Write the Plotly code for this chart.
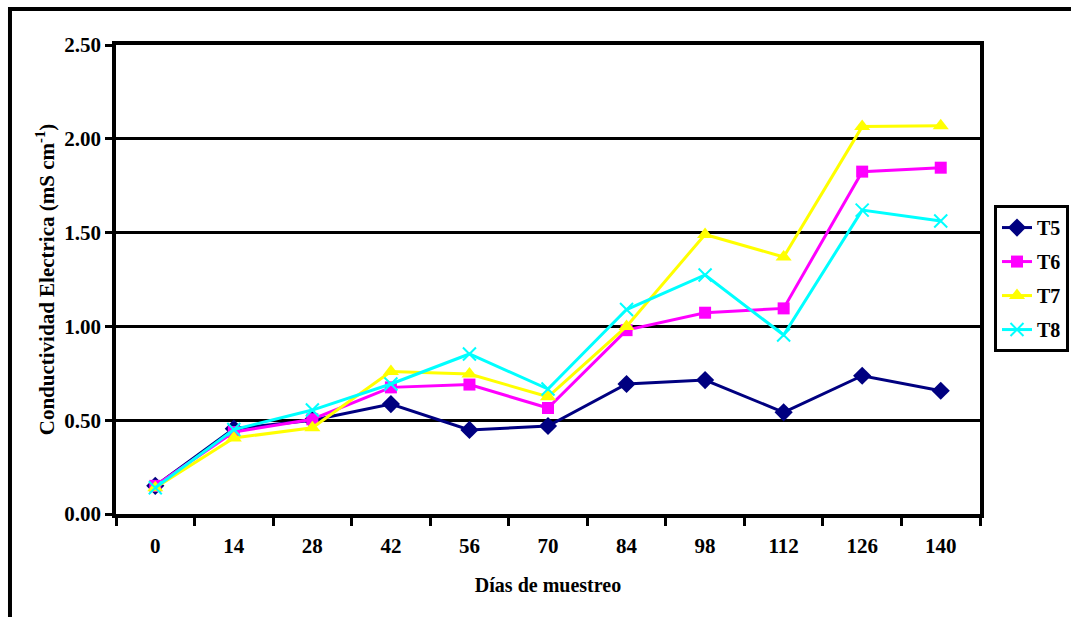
import plotly.graph_objects as go

# Sampling days (categories) and electrical conductivity per treatment (mS cm-1)
dias = ["0", "14", "28", "42", "56", "70", "84", "98", "112", "126", "140"]
t5 = [0.15, 0.455, 0.50, 0.586, 0.448, 0.469, 0.693, 0.714, 0.542, 0.737, 0.657]
t6 = [0.15, 0.437, 0.505, 0.675, 0.69, 0.565, 0.98, 1.073, 1.096, 1.825, 1.846]
t7 = [0.14, 0.405, 0.46, 0.76, 0.746, 0.625, 1.00, 1.49, 1.37, 2.065, 2.07]
t8 = [0.14, 0.45, 0.554, 0.693, 0.853, 0.666, 1.09, 1.274, 0.954, 1.62, 1.562]
y_ticks = [0.0, 0.5, 1.0, 1.5, 2.0, 2.5]

FONT = "Liberation Serif"

series = [
    ("T5", t5, "#000080", "diamond", 14),
    ("T6", t6, "#FF00FF", "square", 12),
    ("T7", t7, "#FFFF00", "triangle-up", 14),
    ("T8", t8, "#00FFFF", "x-thin-open", 13),
]

fig = go.Figure()
for name, vals, color, symbol, size in series:
    marker = dict(symbol=symbol, size=size, color=color)
    if symbol.startswith("x-thin"):
        marker["line"] = dict(color=color, width=2)
    fig.add_trace(go.Scatter(
        x=dias, y=vals, name=name, legendgroup=name,
        mode="lines+markers",
        line=dict(color=color, width=3),
        marker=marker,
    ))

# Outer frame around the figure (left and top edges)
fig.add_shape(type="path", xref="paper", yref="paper",
              path="M -0.1227,-0.3 L -0.1227,1.0768 L 1.1053,1.0768",
              line=dict(color="black", width=4))

fig.update_layout(
    width=1072, height=617,
    margin=dict(l=116, r=92, t=45, b=103, autoexpand=False),
    paper_bgcolor="white", plot_bgcolor="white",
    font=dict(family=FONT, color="black", size=20),
    showlegend=True,
    legend=dict(
        x=1.0162, xanchor="left", y=0.502, yanchor="middle",
        bordercolor="black", borderwidth=3, bgcolor="white",
        font=dict(family=FONT, size=20, color="black", weight="bold"),
        tracegroupgap=5, itemwidth=30,
    ),
    xaxis=dict(
        type="category", tickson="boundaries", automargin=False,
        ticks="outside", ticklen=8, tickwidth=2.5, tickcolor="black",
        showline=True, linecolor="black", linewidth=3.5, mirror=True,
        showgrid=False, ticklabelstandoff=10,
        tickfont=dict(family=FONT, size=21, weight="bold"),
        title=dict(text="Días de muestreo", standoff=22,
                   font=dict(family=FONT, size=20, weight="bold")),
        range=[-0.5, 10.5],
    ),
    yaxis=dict(
        range=[0, 2.5], tickvals=y_ticks, tickformat=".2f", automargin=False,
        ticks="outside", ticklen=7, tickwidth=2.5, tickcolor="black",
        showline=True, linecolor="black", linewidth=3.5, mirror=True,
        showgrid=True, gridcolor="black", gridwidth=2.5,
        zeroline=False,
        tickfont=dict(family=FONT, size=21, weight="bold"),
        title=dict(text="Conductividad Electrica (mS cm<sup>-1</sup>)", standoff=5,
                   font=dict(family=FONT, size=21, weight="bold")),
    ),
)

fig.write_html("out.html")
